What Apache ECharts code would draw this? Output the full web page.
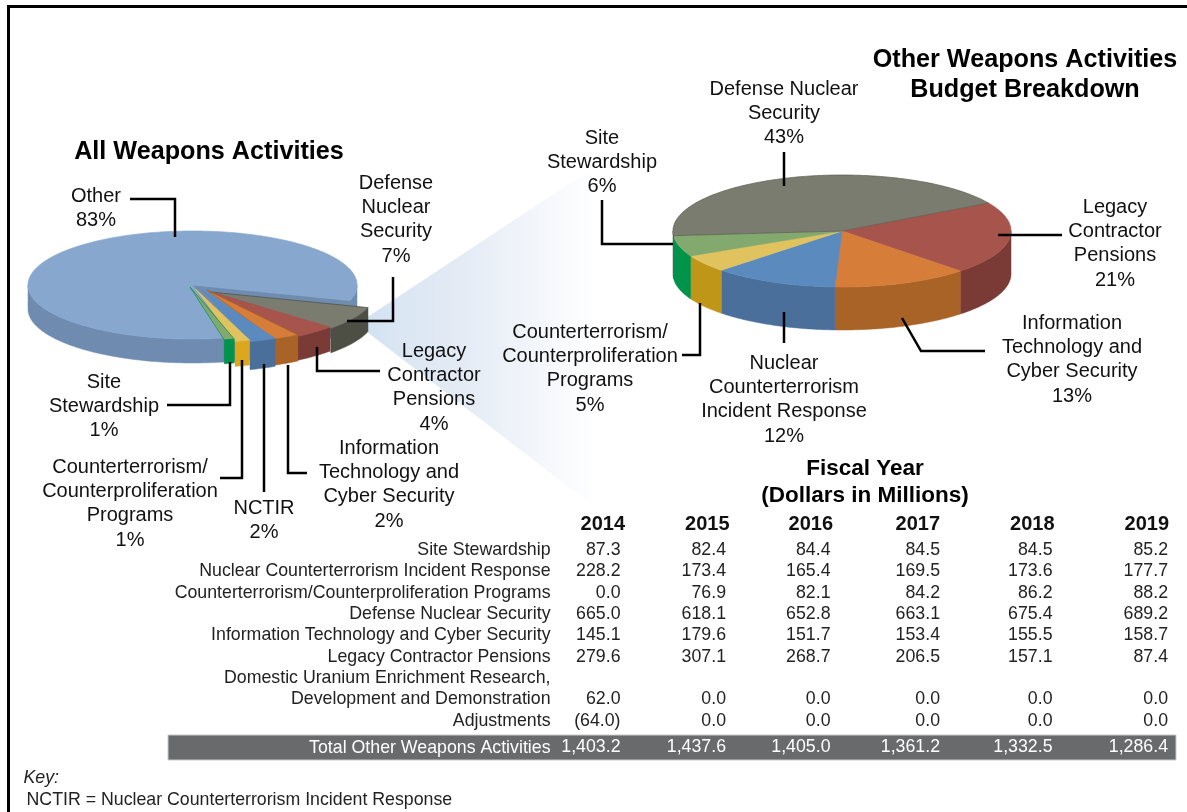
<!DOCTYPE html>
<html>
<head>
<meta charset="utf-8">
<style>html,body{margin:0;padding:0;background:#fff}#c{width:1187px;height:812px}</style>
<script src="https://cdn.jsdelivr.net/npm/echarts@6/dist/echarts.min.js"></script>
</head>
<body>
<div id="c"></div>
<script>
// ---- data ----
const leftNames = ['Other','Defense\nNuclear\nSecurity','Legacy\nContractor\nPensions','Information\nTechnology and\nCyber Security','NCTIR','Counterterrorism/\nCounterproliferation\nPrograms','Site\nStewardship'];
const leftShares = [83,7,4,2,2,1,1];
const rightNames = ['Legacy\nContractor\nPensions','Information\nTechnology and\nCyber Security','Nuclear\nCounterterrorism\nIncident Response','Counterterrorism/\nCounterproliferation\nPrograms','Site\nStewardship','Defense Nuclear\nSecurity'];
const rightShares = [21,13,12,5,6,43];
const years = ['2014','2015','2016','2017','2018','2019'];
const rowLabels = ['Site Stewardship','Nuclear Counterterrorism Incident Response','Counterterrorism/Counterproliferation Programs','Defense Nuclear Security','Information Technology and Cyber Security','Legacy Contractor Pensions','Domestic Uranium Enrichment Research,','Development and Demonstration','Adjustments'];
const fy2014 = [87.3,228.2,0.0,665.0,145.1,279.6,null,62.0,-64.0];
const fy2015 = [82.4,173.4,76.9,618.1,179.6,307.1,null,0.0,0.0];
const fy2016 = [84.4,165.4,82.1,652.8,151.7,268.7,null,0.0,0.0];
const fy2017 = [84.5,169.5,84.2,663.1,153.4,206.5,null,0.0,0.0];
const fy2018 = [84.5,173.6,86.2,675.4,155.5,157.1,null,0.0,0.0];
const fy2019 = [85.2,177.7,88.2,689.2,158.7,87.4,null,0.0,0.0];
const totalLabel = 'Total Other Weapons Activities';
const totals = [1403.2,1437.6,1405.0,1361.2,1332.5,1286.4];

// ---- layout & style ----
const FONT = '"Liberation Sans", Arial, sans-serif';
const leftPie = {cx:192.5, cy:285, rx:164.5, ry:54, depth:24, start:78, cutFace:0,
  top:['#87a7cf','#7a7c6f','#a6544c','#d67d3a','#5b8abf','#e0c35e','#83a96e'],
  side:['#6f8cb0','#4e4f44','#7a3a35','#a96327','#4a6f9a','#dca71c','#00934a'],
  edge:['#87a7cf','#4e4f44','#a6544c','#a96327','#5b8abf','#e0c35e','#00934a'],
  pull:[[0,0,0,0],[18,7,0,1],[15.3,6,0,0.5],[14.4,5,2,2],[9.4,5,4,2.2],[3,4,1,1.7],[-2.5,2,0,0]]};
const rightPie = {cx:842, cy:231, rx:169, ry:56, depth:43, start:-30, cutFace:-1,
  top:['#a6544c','#d67d3a','#5b8abf','#e0c35e','#83a96e','#7a7c6f'],
  side:['#7a3a35','#a96327','#4a6f9a','#c09618','#00934a','#56574c'],
  edge:['#a6544c','#d67d3a','#5b8abf','#e0c35e','#83a96e','#5c5d52'],
  pull:[[0,0,0,0],[0,0,0,0],[0,0,0,0],[0,0,0,0],[0,0,0,0],[0,0,0,0]]};

function pieRenderer(shares, p) {
  const total = shares.reduce((a,b)=>a+b,0);
  return function (params, api) {
    const i = params.dataIndex;
    const v = api.value(0);
    let a0 = p.start;
    for (let k=0;k<i;k++) a0 += shares[k]/total*360;
    const [dx,dy,ex,overlap] = p.pull[i];
    const a1 = a0 + v/total*360 + overlap;
    const cx = p.cx+dx, cy = p.cy+dy, d = p.depth+ex;
    const pt = (a,off)=>{const r=a*Math.PI/180; return [cx+p.rx*Math.cos(r), cy+p.ry*Math.sin(r)+(off||0)];};
    const children = [];
    const poly = (points, fill, stroke, lw)=>children.push({type:'polygon', shape:{points},
      style:{fill, stroke:stroke||fill, lineWidth:lw==null?0.5:lw}});
    if (i === p.cutFace) {
      // the hollow left behind where the exploded wedges were pulled away
      const hollow=[], hollowLow=[];
      for (let a=a1; a<=a0+360; a+=1){ hollow.push(pt(a)); hollowLow.push(pt(a,d)); }
      poly([[cx,cy]].concat(hollow), p.side[i]);
      poly([[cx,cy+d]].concat(hollowLow), p.side[i]);
      poly([[cx,cy],pt(a1),pt(a1,d),[cx,cy+d]], p.side[i]);
    }
    // outer wall: only the part with sin>0 faces the viewer
    for (let base=-360; base<=360; base+=360) {
      const s = Math.max(a0, base), e = Math.min(a1, base+180);
      if (e>s) {
        const up=[], low=[];
        for (let a=s;;a+=1){ const q=Math.min(a,e); up.push(pt(q)); low.unshift(pt(q,d)); if(q>=e)break; }
        poly(up.concat(low), p.side[i]);
      }
    }
    // top face
    const topPts=[[cx,cy]];
    for (let a=a0;;a+=1){ const q=Math.min(a,a1); topPts.push(pt(q)); if(q>=a1)break; }
    poly(topPts, p.top[i], p.edge[i], 0.7);
    return {type:'group', children};
  };
}

const labelStyle = {fontSize:20, fontFamily:FONT, fill:'#111', lineHeight:24.4, textAlign:'center', textVerticalAlign:'top'};
const textEl = (text,x,y,extra)=>({type:'text', z:11, style:Object.assign({}, labelStyle, {text,x,y:y-11.2}, extra||{})});
const leftLabelPos = [[96,195],[396,182],[434,350],[389,447],[264,507],[130,466],[104,381]];
const rightLabelPos = [[1115,206],[1072,322],[784,362],[590,331],[602,137],[784,88]];
const leaders = [
  [[130,199],[175,199],[175,237]],
  [[393,277],[393,321],[347,321]],
  [[317,347],[317,371],[380,371]],
  [[167,405],[230,405],[230,362]],
  [[242,360],[242,478],[220,478]],
  [[264,364],[264,492]],
  [[288,365],[288,473],[307,473]],
  [[784,152],[784,186]],
  [[602,200],[602,244],[673,244]],
  [[998,235],[1062,235]],
  [[902,318],[921,351],[985,351]],
  [[784,312],[784,343]],
  [[700,303],[700,355],[682,355]]
];
const headerRight = [625,729.5,833,940,1054.5,1169];
const valueRight = [620.5,726,830.5,940,1052.5,1168];
const rowY = [550.5,571.5,593,614.5,635.5,657,678.5,699.5,721];
const fmt = v => v==null ? '' : (v<0 ? '('+Math.abs(v).toFixed(1)+')' : v.toLocaleString('en-US',{minimumFractionDigits:1,maximumFractionDigits:1}));
const tableFont = {fontSize:17.75, fontFamily:FONT, fill:'#222', textVerticalAlign:'middle', lineHeight:20};
const cols = [fy2014,fy2015,fy2016,fy2017,fy2018,fy2019];

const graphics = [
  {type:'rect', z:0, shape:{x:7,y:5,width:1180,height:3}, style:{fill:'#000'}},
  {type:'rect', z:0, shape:{x:7,y:5,width:3,height:807}, style:{fill:'#000'}},
  {type:'polygon', z:0, shape:{points:[[360,322],[605,160],[605,515],[362,328]]},
    style:{fill:{type:'linear',x:0,y:0,x2:1,y2:0,colorStops:[
      {offset:0,color:'#cfe2f2'},{offset:0.15,color:'#dae6f3'},{offset:0.42,color:'#e4ebf5'},{offset:0.72,color:'#f3f6fb'},{offset:0.96,color:'#ffffff'},{offset:1,color:'#ffffff'}]}}},
  {type:'rect', z:1, shape:{x:168,y:735,width:1008,height:25}, style:{fill:'#696a6b', stroke:'#c9c9c9', lineWidth:1}}
];
leaders.forEach(points=>graphics.push({type:'polyline', z:10, shape:{points}, style:{stroke:'#000', lineWidth:2.5, fill:null, lineJoin:'miter'}}));
leftNames.forEach((n,i)=>graphics.push(textEl(n+'\n'+leftShares[i]+'%', leftLabelPos[i][0], leftLabelPos[i][1])));
rightNames.forEach((n,i)=>graphics.push(textEl(n+'\n'+rightShares[i]+'%', rightLabelPos[i][0], rightLabelPos[i][1])));
years.forEach((y,i)=>graphics.push({type:'text', z:11, style:{text:y,x:headerRight[i],y:524.5,fontSize:20,fontWeight:'bold',fontFamily:FONT,fill:'#111',textAlign:'right',textVerticalAlign:'middle'}}));
rowLabels.forEach((l,r)=>{
  graphics.push({type:'text', z:11, style:Object.assign({}, tableFont, {text:l,x:550.5,y:rowY[r],textAlign:'right'})});
  cols.forEach((c,i)=>{ if(c[r]!=null) graphics.push({type:'text', z:11, style:Object.assign({}, tableFont, {text:fmt(c[r]),x:valueRight[i],y:rowY[r],textAlign:'right'})}); });
});
graphics.push({type:'text', z:11, style:Object.assign({}, tableFont, {text:totalLabel,x:550.5,y:748.5,textAlign:'right',fill:'#fff'})});
totals.forEach((t,i)=>graphics.push({type:'text', z:11, style:Object.assign({}, tableFont, {text:fmt(t),x:valueRight[i],y:747.5,textAlign:'right',fill:'#fff'})}));
graphics.push({type:'text', z:11, style:Object.assign({}, tableFont, {text:'Key:',x:23.5,y:778.5,fontStyle:'italic',textAlign:'left'})});
graphics.push({type:'text', z:11, style:Object.assign({}, tableFont, {text:'NCTIR = Nuclear Counterterrorism Incident Response',x:26.5,y:800.5,textAlign:'left'})});

const titleStyle = (size)=>({fontSize:size,fontWeight:'bold',fontFamily:FONT,color:'#000',lineHeight:size*1.2});
const chart = echarts.init(document.getElementById('c'), null, {renderer:'canvas'});
chart.setOption({
  animation:false,
  backgroundColor:'#fff',
  title:[
    {text:'All Weapons Activities',left:209,top:137,textAlign:'center',padding:0,textStyle:titleStyle(25.2)},
    {text:'Other Weapons Activities',left:1025,top:45,textAlign:'center',padding:0,textStyle:titleStyle(25.2)},
    {text:'Budget Breakdown',left:1025,top:75,textAlign:'center',padding:0,textStyle:titleStyle(25.2)},
    {text:'Fiscal Year',left:865,top:455,textAlign:'center',padding:0,textStyle:titleStyle(22.5)},
    {text:'(Dollars in Millions)',left:865,top:482,textAlign:'center',padding:0,textStyle:titleStyle(22.5)}
  ],
  graphic:{elements:graphics},
  series:[
    {type:'custom',name:'All Weapons Activities',coordinateSystem:'none',z:3,silent:true,clip:false,
      renderItem:pieRenderer(leftShares,leftPie),data:leftShares.map((v,i)=>({name:leftNames[i],value:[v]}))},
    {type:'custom',name:'Other Weapons Activities',coordinateSystem:'none',z:3,silent:true,clip:false,
      renderItem:pieRenderer(rightShares,rightPie),data:rightShares.map((v,i)=>({name:rightNames[i],value:[v]}))}
  ]
});
</script>
</body>
</html>
